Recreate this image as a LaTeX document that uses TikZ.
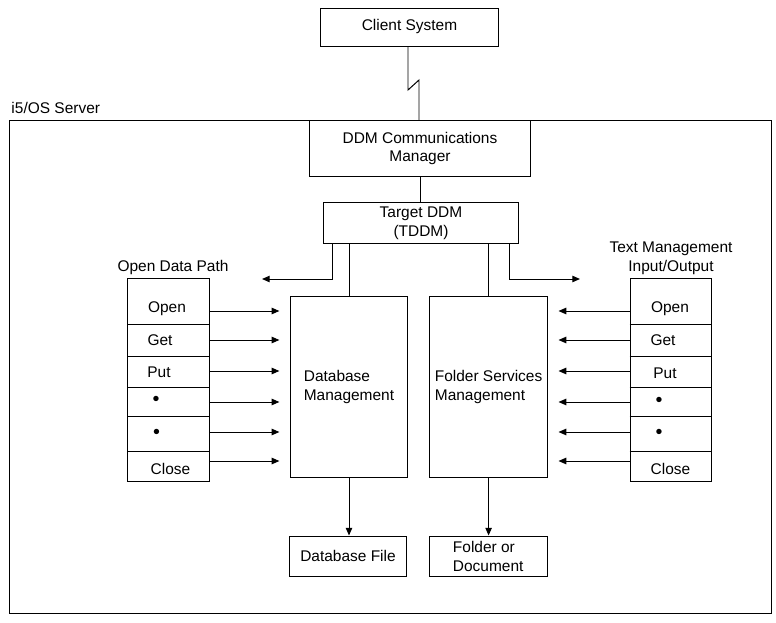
\documentclass[tikz,border=0pt]{standalone}
\usepackage{fontspec}
\setmainfont{Liberation Sans}
\usetikzlibrary{arrows.meta}

\newcommand{\rowdot}{{\fontsize{14}{14}\selectfont\textbullet}}

\begin{document}
\begin{tikzpicture}[x=0.025cm, y=-0.025cm, line width=0.7pt,
	font=\fontsize{11}{13.5}\selectfont,
	box/.style={draw, inner sep=0pt, align=center},
	arr/.style={-{Triangle[length=5.5pt,width=4.6pt]}},
	rowarr/.style={arr, shorten >=0.27cm}]
	\useasboundingbox (0,0) rectangle (776,623);
	\node[box, minimum width=4.425cm, minimum height=0.95cm] (client) at (409.5,27) {Client System};
	\node[box, minimum width=19.025cm, minimum height=12.3cm] (server) at (390.5,367) {};
	\node[anchor=base west, inner sep=0pt] (srvlabel) at (11,113.5) {i5/OS Server};
	\node[box, minimum width=5.5cm, minimum height=1.375cm] (ddm) at (420,148.5) {DDM Communications\\Manager};
	\node[box, minimum width=4.85cm, minimum height=1.015cm] (tddm) at (421,223) {Target DDM\\(TDDM)};
	\node[box, align=left, minimum width=2.915cm, minimum height=4.533cm] (dbm) at (349,387.3) {Database\\Management};
	\node[box, align=left, minimum width=2.93cm, minimum height=4.533cm] (fsm) at (488.6,387.3) {Folder Services\\Management};
	\node[box, align=left, minimum width=2.935cm, minimum height=1.0cm] (dbfile) at (348,556) {Database File};
	\node[box, align=left, minimum width=2.94cm, minimum height=1.0cm] (fdoc) at (488.2,556) {Folder or\\Document};
	\node[box, minimum width=2.025cm, minimum height=5.075cm] (lstack) at (168.5,379.8) {};
	\node[box, minimum width=2.04cm, minimum height=5.085cm] (rstack) at (670.8,380) {};
	\node (odp) at (173,267.5) {Open Data Path};
	\node[align=center] (tmio) at (671,258) {Text Management\\Input/Output};
	\foreach \y in {324,356,387,416,451} {
		\draw (lstack.west |- 0,\y) -- (lstack.east |- 0,\y);
		\draw (rstack.west |- 0,\y) -- (rstack.east |- 0,\y);
	}
	\foreach \n/\t/\x/\y in {open/Open/167/309, get/Get/160/340, put/Put/159/372, dota/\rowdot/156/401, dotb/\rowdot/156.5/434, close/Close/170.5/469}
		\node[inner sep=1pt] (l\n) at (\x,\y) {\t};
	\foreach \n/\t/\x/\y in {open/Open/670/309, get/Get/663/340, put/Put/665/373, dota/\rowdot/659/401.5, dotb/\rowdot/659/434, close/Close/670.5/469}
		\node[inner sep=1pt] (r\n) at (\x,\y) {\t};
	\foreach \ay in {311,340,371,402,432,461} {
		\draw[rowarr] (lstack.east |- 0,\ay) -- (dbm.west |- 0,\ay);
		\draw[rowarr] (rstack.west |- 0,\ay) -- (fsm.east |- 0,\ay);
	}
	\coordinate (zz1) at (408,90);
	\coordinate (zz2) at (419,80);
	\draw (client.south -| zz1) -- (zz1) -- (zz2) -- (zz2 |- server.north);
	\draw (ddm.south) -- (ddm.south |- tddm.north);
	\coordinate (odpend) at (262,279);
	\coordinate (tmioend) at (580,279);
	\draw[arr] ([xshift=0.225cm]tddm.south west) |- (odpend);
	\draw[arr] ([xshift=-0.225cm]tddm.south east) |- (tmioend);
	\draw (dbm.north |- tddm.south) -- (dbm.north);
	\draw (fsm.north |- tddm.south) -- (fsm.north);
	\draw[arr] (dbm.south) -- (dbm.south |- dbfile.north);
	\draw[arr] (fsm.south) -- (fsm.south |- fdoc.north);
\end{tikzpicture}
\end{document}
